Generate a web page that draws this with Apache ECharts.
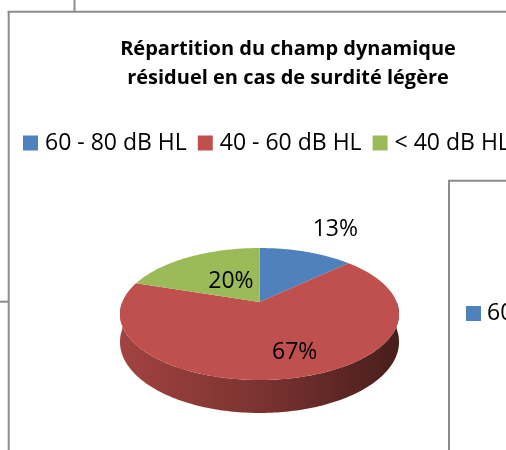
<!DOCTYPE html>
<html>
<head>
  <meta charset="utf-8">
  <title>Répartition du champ dynamique résiduel</title>
  <script src="https://cdn.jsdelivr.net/npm/echarts@6/dist/echarts.min.js"></script>
  <style>
    body { margin: 0; background: #fff; }
    #chart { width: 506px; height: 450px; }
  </style>
</head>
<body>
  <div id="chart"></div>
  <script>
    var categories = ['60 - 80 dB HL', '40 - 60 dB HL', '< 40 dB HL'];
    var values = [13, 67, 20];
    var colors = ['#4f81bd', '#c0504d', '#9bbb59'];

    // tilted pie in perspective: centre, radii, tilt factor, thickness
    var CX = 259.5, CY = 302, RX = 137.2, RY = 63.8, K = 0.182, DEPTH = 27;
    // label placement: radius factor along mid-angle + small nudge
    var labelRadius = [1.6, 0.68, 0.5];
    var labelNudge = [[7, 1], [12, 2], [9, 3]];
    var FONT = '"Open Sans", "Liberation Sans", sans-serif';

    var total = values.reduce(function (s, v) { return s + v; }, 0);

    function sliceAngles(i) {
      var cum = 0;
      for (var j = 0; j < i; j++) cum += values[j];
      var a0 = 90 - 360 * cum / total;
      return [a0, a0 - 360 * values[i] / total];
    }

    function proj(deg, r) {
      var t = deg * Math.PI / 180;
      var u = r * Math.cos(t), v = r * Math.sin(t);
      var d = 1 + K * v;
      return [CX + RX * u / d, CY - RY * v / d, d];
    }

    function arc(from, to) {
      var pts = [];
      var n = Math.max(2, Math.ceil(Math.abs(to - from)));
      for (var k = 0; k <= n; k++) pts.push(proj(from + (to - from) * k / n, 1));
      return pts;
    }

    function shade(hex, f) {
      var c = echarts.color.parse(hex);
      return 'rgb(' + Math.round(c[0] * f) + ',' + Math.round(c[1] * f) + ',' + Math.round(c[2] * f) + ')';
    }

    // visible front wall of each slice
    function renderSide(params, api) {
      var a = sliceAngles(params.dataIndex);
      var children = [];
      [[-180, 0], [180, 360]].forEach(function (rng) {
        var lo = Math.max(a[1], rng[0]), hi = Math.min(a[0], rng[1]);
        if (lo >= hi) return;
        var top = arc(lo, hi);
        var pts = top.map(function (p) { return [p[0], p[1]]; });
        for (var k = top.length - 1; k >= 0; k--) {
          pts.push([top[k][0], top[k][1] + DEPTH / top[k][2]]);
        }
        var col = colors[params.dataIndex];
        children.push({
          type: 'polygon',
          shape: { points: pts },
          style: {
            fill: new echarts.graphic.LinearGradient(CX - RX * 1.02, 0, CX + RX * 1.02, 0, [
              { offset: 0, color: shade(col, 0.84) },
              { offset: 0.5, color: shade(col, 0.64) },
              { offset: 1, color: shade(col, 0.37) }
            ], true),
            stroke: null
          }
        });
      });
      return { type: 'group', children: children };
    }

    function makeTop(i) {
      return function (params, api) {
        var a = sliceAngles(i);
        var pts = [[CX, CY]].concat(arc(a[0], a[1]).map(function (p) { return [p[0], p[1]]; }));
        var mid = proj((a[0] + a[1]) / 2, labelRadius[i]);
        return {
          type: 'group',
          children: [{
            type: 'polygon',
            shape: { points: pts },
            style: { fill: api.visual('color'), stroke: null }
          }, {
            type: 'text',
            x: mid[0] + labelNudge[i][0],
            y: mid[1] + labelNudge[i][1],
            z2: 10,
            style: {
              text: Math.round(values[i] / total * 100) + '%',
              fill: '#000',
              font: '23px ' + FONT,
              align: 'center',
              verticalAlign: 'middle'
            }
          }]
        };
      };
    }

    var series = [{
      name: 'side',
      type: 'custom',
      coordinateSystem: 'none',
      z: 1,
      silent: true,
      data: values,
      renderItem: renderSide
    }];
    categories.forEach(function (name, i) {
      series.push({
        name: name,
        type: 'custom',
        coordinateSystem: 'none',
        z: 2,
        itemStyle: { color: colors[i] },
        data: [values[i]],
        renderItem: makeTop(i)
      });
    });

    var grey = '#8c8c8c';
    var chart = echarts.init(document.getElementById('chart'));
    chart.setOption({
      animation: false,
      backgroundColor: '#fff',
      title: {
        text: 'Répartition du champ dynamique\nrésiduel en cas de surdité légère',
        left: 283,
        top: 30,
        textAlign: 'center',
        textStyle: {
          fontFamily: FONT,
          fontWeight: 'bold',
          fontSize: 20,
          lineHeight: 29,
          color: '#000'
        }
      },
      legend: {
        data: categories,
        left: 23,
        top: 130,
        width: 800,
        padding: 0,
        itemWidth: 15,
        itemHeight: 15,
        itemGap: 11,
        icon: 'rect',
        selectedMode: false,
        textStyle: {
          fontFamily: FONT,
          fontSize: 23,
          lineHeight: 26,
          color: '#000',
          padding: [0, 0, 0, 2]
        }
      },
      graphic: [
        { type: 'line', shape: { x1: 74.5, y1: 0, x2: 74.5, y2: 11 }, style: { stroke: grey, lineWidth: 2 } },
        { type: 'line', shape: { x1: 7.7, y1: 11.7, x2: 506, y2: 11.7 }, style: { stroke: grey, lineWidth: 2 } },
        { type: 'line', shape: { x1: 8.7, y1: 11, x2: 8.7, y2: 450 }, style: { stroke: grey, lineWidth: 2 } },
        { type: 'line', shape: { x1: 0, y1: 301.7, x2: 8, y2: 301.7 }, style: { stroke: grey, lineWidth: 2 } },
        { type: 'rect', z: 50, shape: { x: 449, y: 180.7, width: 80, height: 300 }, style: { fill: '#fff', stroke: grey, lineWidth: 2 } },
        { type: 'rect', z: 51, shape: { x: 466, y: 306, width: 15, height: 15 }, style: { fill: colors[0] } },
        { type: 'text', z: 51, x: 487, y: 313.5, style: { text: '60', font: '23px ' + FONT, fill: '#000', verticalAlign: 'middle' } }
      ],
      series: series
    });
  </script>
</body>
</html>
